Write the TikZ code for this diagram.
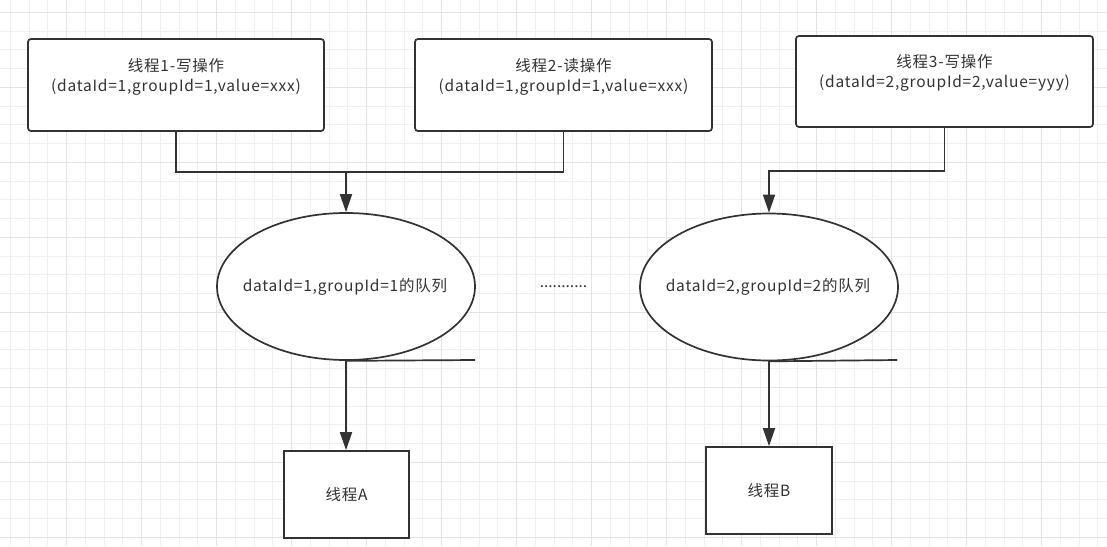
\documentclass[tikz,border=0pt]{standalone}
\usepackage{fontspec}
\setmainfont{Noto Sans CJK SC}[LetterSpace=5]
\usetikzlibrary{shapes.geometric,arrows.meta}
\definecolor{ink}{HTML}{333333}
\definecolor{gridl}{HTML}{F0F0F0}
\definecolor{gridd}{HTML}{E4E4E4}
\tikzset{
  every node/.style={font=\fontsize{15.5}{20.5}\selectfont, text=ink},
  tbox/.style={draw=ink, line width=1.7pt, fill=white, rounded corners=3pt, minimum width=296pt, minimum height=92pt, inner sep=0pt},
  qell/.style={ellipse, draw=ink, line width=1.7pt, fill=white, minimum width=258pt, minimum height=147pt, inner sep=0pt},
  sbox/.style={draw=ink, line width=1.7pt, fill=white, minimum width=125pt, minimum height=87pt, inner sep=0pt},
  txt/.style={align=center, inner sep=0pt},
  conn/.style={draw=ink, line width=1.7pt},
  arr/.style={conn, -{Triangle[width=12pt,length=18pt]}},
  gl/.style={gridl, line width=1pt},
  gd/.style={gridd, line width=1pt}
}
\begin{document}
\begin{tikzpicture}[x=1pt,y=-1pt]
\useasboundingbox (0,0) rectangle (1107,546);
\fill[white] (0,0) rectangle (1107,546);
% grid
\foreach \i in {0,...,58} {\draw[gl] ({10.45+18.75*\i},0) -- ({10.45+18.75*\i},546);}
\foreach \i in {0,...,28} {\draw[gl] (0,{12.3+18.75*\i}) -- (1107,{12.3+18.75*\i});}
\foreach \i in {0,...,13} {\draw[gd] ({66.7+75*\i},0) -- ({66.7+75*\i},546);}
\foreach \i in {0,...,7} {\draw[gd] (0,{12.3+75*\i}) -- (1107,{12.3+75*\i});}

% top boxes
\node[tbox] (b1) at (176,85) {};
\node[txt] (b1t) at (176,77) {线程1-写操作\\(dataId=1,groupId=1,value=xxx)};
\node[tbox, minimum width=297pt] (b2) at (563.5,85) {};
\node[txt] (b2t) at (563.5,77) {线程2-读操作\\(dataId=1,groupId=1,value=xxx)};
\node[tbox, minimum width=297pt, minimum height=91pt] (b3) at (944.5,81.5) {};
\node[txt] (b3t) at (944.5,73) {线程3-写操作\\(dataId=2,groupId=2,value=yyy)};

% queues
\node[qell] (e1) at (346,286.5) {};
\node[txt] (e1t) at (345,287) {dataId=1,groupId=1的队列};
\node[qell] (e2) at (769,287) {};
\node[txt] (e2t) at (768,287) {dataId=2,groupId=2的队列};
\node[txt, font=\fontsize{15.5}{20.5}\selectfont\addfontfeature{LetterSpace=0}] (dots) at (563.5,287) {...........};

% bottom boxes
\node[sbox] (tA) at (346.5,494.5) {线程A};
\node[sbox, minimum width=126pt] (tB) at (769,490.5) {线程B};

% connectors
\coordinate (m1) at (346,172);
\coordinate (m2) at (769,171);
\coordinate (c1) at (475,360);
\coordinate (c2) at (897,360);
\draw[conn] (b1.south) |- (m1);
\draw[conn] (b2.south) |- (m1);
\draw[arr] (m1) -- (e1.north);
\draw[arr] (b3.south) |- (m2) -- (e2.north);
\draw[conn] (e1.south) -- (c1);
\draw[conn] (e2.south) -- (c2);
\draw[arr] (e1.south) -- (e1.south |- tA.north);
\draw[arr] (e2.south) -- (tB.north);
\end{tikzpicture}
\end{document}
